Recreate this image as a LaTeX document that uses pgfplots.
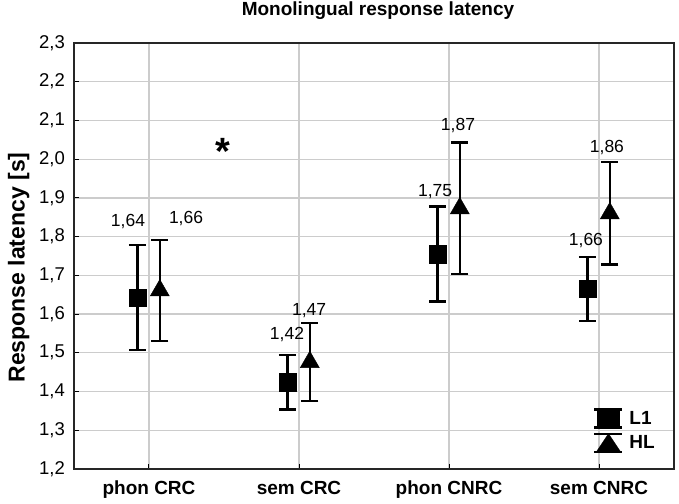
\documentclass[border=0pt]{standalone}
\usepackage{pgfplots}
\pgfplotsset{compat=1.18}
\usepackage{pgfplotstable}
\usepackage{fontspec}
\setmainfont{Liberation Sans}

\pgfplotstableread{
x y e
-0.077 1.643 0.135
0.923 1.424 0.070
1.923 1.755 0.123
2.923 1.665 0.083
}\Lone
\pgfplotstableread{
x y e
0.072 1.661 0.131
1.072 1.476 0.101
2.072 1.873 0.170
3.072 1.860 0.132
}\HL

\begin{document}
\begin{tikzpicture}
\begin{axis}[
  scale only axis, width=600bp, height=426bp,
  xmin=-0.5, xmax=3.5, ymin=1.2, ymax=2.3,
  xtick={0,1,2,3},
  xticklabels={phon CRC, sem CRC, phon CNRC, sem CNRC},
  ytick={1.2,1.3,1.4,1.5,1.6,1.7,1.8,1.9,2.0,2.1,2.2,2.3},
  yticklabel style={font=\fontsize{18.5bp}{20bp}\selectfont, inner sep=0pt, xshift=-9bp,
    /pgf/number format/fixed, /pgf/number format/fixed zerofill, /pgf/number format/precision=1,
    /pgf/number format/use comma, /pgf/number format/assume math mode=true},
  xticklabel style={font=\fontsize{19bp}{21bp}\selectfont\bfseries, inner sep=0pt, anchor=north, yshift=-12bp},
  tick pos=left, tick align=inside, major tick length=5bp,
  tick style={black, line width=1bp},
  grid=major, major grid style={black!20, line width=1.2bp},
  axis line style={black!85, line width=1.4bp},
  title={Monolingual response latency},
  title style={font=\fontsize{19bp}{21bp}\selectfont\bfseries, at={(0.5,1)}, anchor=base, yshift=22bp, xshift=4bp},
  ylabel={Response latency [s]},
  ylabel style={font=\fontsize{23bp}{25bp}\selectfont\bfseries, at={(axis description cs:-0.092,0.473)}, anchor=center},
  legend style={at={(1,0)}, anchor=south east, xshift=-17bp, yshift=16bp, draw=none, fill=none,
    font=\fontsize{19bp}{21bp}\selectfont\bfseries, row sep=4bp, inner sep=0pt},
  legend cell align=left,
]
\addplot[only marks, mark=square*, mark size=8.7bp, black, mark options={line width=0.4bp, fill=black},
  error bars/.cd, y dir=both, y explicit,
  error bar style={line width=2.4bp, black},
  error mark options={rotate=90, mark size=8.5bp, line width=2.4bp, black},
  /pgfplots/legend image code/.code={
    \fill[black] (0bp,-9bp) rectangle (22bp,9bp);
    \draw[black, line width=2.2bp] (-3bp,9bp) -- (25bp,9bp) (-3bp,-9bp) -- (25bp,-9bp);
    \path[draw=none, fill=none] (25bp,0bp) -- (30bp,0bp);
  },
  ]
  table[x=x, y=y, y error=e] {\Lone};
\addlegendentry{L1}
\addplot[only marks, mark=triangle*, mark size=11bp, black, mark options={line width=0.4bp, fill=black},
  error bars/.cd, y dir=both, y explicit,
  error bar style={line width=2.4bp, black},
  error mark options={rotate=90, mark size=8.5bp, line width=2.4bp, black},
  /pgfplots/legend image code/.code={
    \fill[black] (11bp,9bp) -- (-1bp,-9bp) -- (23bp,-9bp) -- cycle;
    \draw[black, line width=2.2bp] (-3bp,9bp) -- (25bp,9bp) (-3bp,-9bp) -- (25bp,-9bp);
    \path[draw=none, fill=none] (25bp,0bp) -- (30bp,0bp);
  },
  ]
  table[x=x, y=y, y error=e] {\HL};
\addlegendentry{HL}
\node[font=\fontsize{17.5bp}{19bp}\selectfont] at (axis cs:-0.14,1.838) {1,64};
\node[font=\fontsize{17.5bp}{19bp}\selectfont] at (axis cs:0.247,1.846) {1,66};
\node[font=\fontsize{17.5bp}{19bp}\selectfont] at (axis cs:0.92,1.546) {1,42};
\node[font=\fontsize{17.5bp}{19bp}\selectfont] at (axis cs:1.067,1.608) {1,47};
\node[font=\fontsize{17.5bp}{19bp}\selectfont] at (axis cs:1.907,1.915) {1,75};
\node[font=\fontsize{17.5bp}{19bp}\selectfont] at (axis cs:2.06,2.088) {1,87};
\node[font=\fontsize{17.5bp}{19bp}\selectfont] at (axis cs:2.913,1.791) {1,66};
\node[font=\fontsize{17.5bp}{19bp}\selectfont] at (axis cs:3.053,2.029) {1,86};
\node[font=\fontsize{38bp}{40bp}\selectfont\bfseries, anchor=base] at (axis cs:0.493,1.986) {*};
\end{axis}
\pgfresetboundingbox
\path[use as bounding box] ([shift={(-74bp,-35bp)}]current axis.south west) rectangle ([shift={(5bp,43bp)}]current axis.north east);
\end{tikzpicture}
\end{document}
